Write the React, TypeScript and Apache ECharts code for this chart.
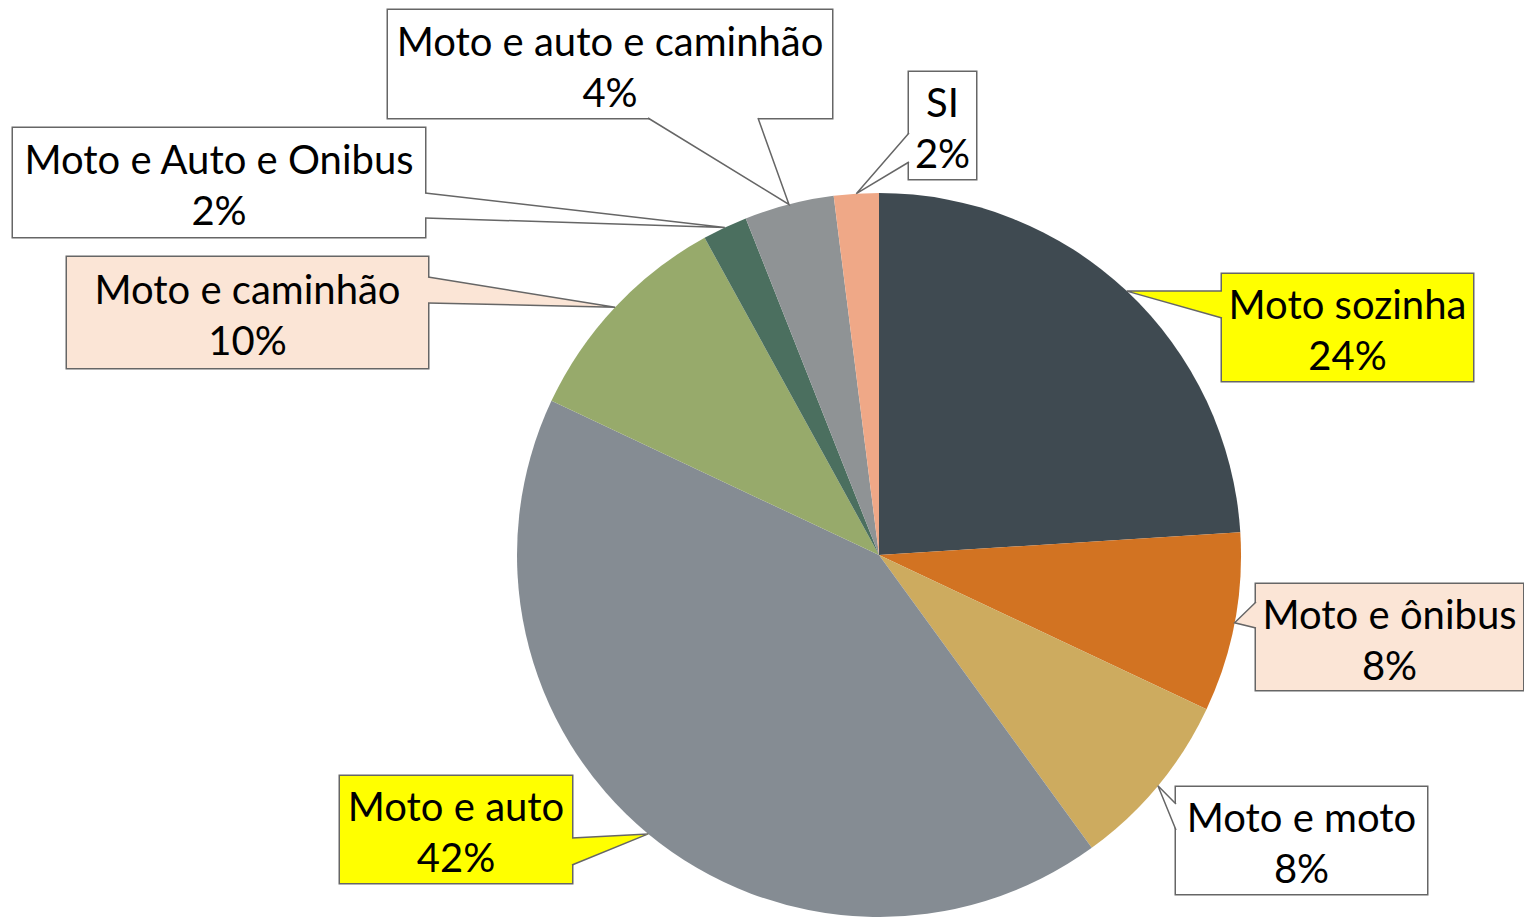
import React, { useEffect, useRef } from 'react';
import * as echarts from 'echarts';

// ---- data ----
const categories = [
  'Moto sozinha',
  'Moto e ônibus',
  'Moto e moto',
  'Moto e auto',
  'Moto e caminhão',
  'Moto e Auto e Onibus',
  'Moto e auto e caminhão',
  'SI',
];
const values = [24, 8, 8, 42, 10, 2, 4, 2];

// ---- styles ----
const sliceColors = ['#3F4A51', '#D27322', '#CDAB5F', '#858C93', '#97AA6B', '#4B6F5F', '#8F9395', '#EFA887'];
const boxFills = ['#FFFF00', '#FBE5D6', '#FFFFFF', '#FFFF00', '#FBE5D6', '#FFFFFF', '#FFFFFF', '#FFFFFF'];

// ---- layout (label boxes: left, top, width, height) ----
const boxRects = [
  [1222, 274, 251, 107],
  [1256, 584, 267, 106],
  [1176, 787, 251, 107],
  [340, 776, 232, 107],
  [67, 257, 361, 111],
  [13, 128, 412, 109],
  [388, 10, 444, 108],
  [909, 72, 67, 107],
];
const wedgeSides = ['left', 'left', 'left', 'right', 'right', 'right', 'bottom', 'left'];
const wedgeBase = [
  [17, 44],
  [18, 44],
  [17, 43],
  [62, 89],
  [20, 46],
  [65, 90],
  [260, 370],
  [61, 90],
];

const CENTER = [879, 555];
const RADIUS = 362;
const BORDER = '#666666';
const FONT = 'Lato';

export default function App() {
  const ref = useRef<HTMLDivElement>(null);

  useEffect(() => {
    const chart = echarts.init(ref.current as HTMLDivElement, null, { renderer: 'svg' });
    const total = values.reduce((a, b) => a + b, 0);
    let cum = 0;
    const graphics: any[] = [];
    values.forEach((v, i) => {
      const a = ((cum + v / 2) / total) * 2 * Math.PI;
      cum += v;
      const P = [CENTER[0] + RADIUS * Math.sin(a), CENTER[1] - RADIUS * Math.cos(a)];
      const [l, t, w, h] = boxRects[i];
      const [o1, o2] = wedgeBase[i];
      let b1: number[], b2: number[], b1in: number[], b2in: number[];
      if (wedgeSides[i] === 'left') {
        b1 = [l, t + o1]; b2 = [l, t + o2];
        b1in = [l + 3, t + o1]; b2in = [l + 3, t + o2];
      } else if (wedgeSides[i] === 'right') {
        b1 = [l + w, t + o1]; b2 = [l + w, t + o2];
        b1in = [l + w - 3, t + o1]; b2in = [l + w - 3, t + o2];
      } else {
        b1 = [l + o1, t + h]; b2 = [l + o2, t + h];
        b1in = [l + o1, t + h - 3]; b2in = [l + o2, t + h - 3];
      }
      graphics.push({
        type: 'polygon',
        z: 100,
        silent: true,
        shape: { points: [b1in, b1, P, b2, b2in] },
        style: { fill: boxFills[i], stroke: null },
      });
      graphics.push({
        type: 'polyline',
        z: 101,
        silent: true,
        shape: { points: [b1, P, b2] },
        style: { fill: null, stroke: BORDER, lineWidth: 1.5 },
      });
    });

    chart.setOption({
      animation: false,
      backgroundColor: '#FFFFFF',
      graphic: graphics,
      series: [
        {
          type: 'pie',
          center: CENTER,
          radius: RADIUS,
          startAngle: 90,
          clockwise: true,
          avoidLabelOverlap: false,
          emphasis: { disabled: true },
          itemStyle: { borderWidth: 0 },
          labelLine: { show: false },
          label: {
            show: true,
            position: 'outside',
            formatter: (p: any) => `${p.name}\n${p.value}%`,
            fontFamily: FONT,
            fontSize: 40,
            lineHeight: 51,
            color: '#000000',
            align: 'center',
            borderColor: BORDER,
            borderWidth: 1.5,
          },
          labelLayout: (params: any) => {
            const [l, t, w] = boxRects[params.dataIndex];
            return { x: l + w / 2, y: t, align: 'center', verticalAlign: 'top' };
          },
          data: categories.map((name, i) => {
            const extra = boxRects[i][3] - 102;
            return {
              name,
              value: values[i],
              itemStyle: { color: sliceColors[i] },
              label: {
                backgroundColor: boxFills[i],
                width: boxRects[i][2],
                padding: [extra / 2 + 2, 0, extra / 2 - 2, 0],
              },
            };
          }),
        },
      ],
    });
    return () => chart.dispose();
  }, []);

  return (
    <div
      ref={ref}
      style={{ position: 'fixed', left: 0, top: 0, width: 1524, height: 917 }}
    />
  );
}
